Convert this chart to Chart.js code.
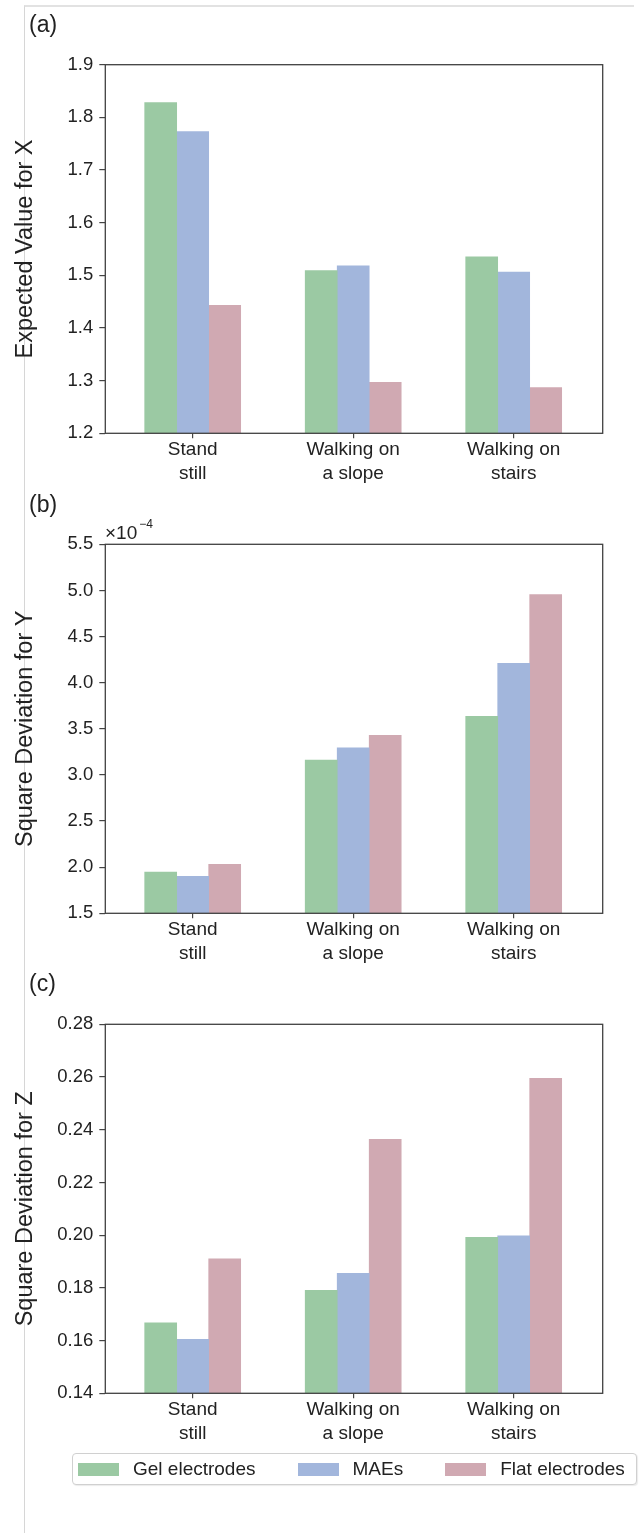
<!DOCTYPE html>
<html>
<head>
<meta charset="utf-8">
<script src="https://cdn.jsdelivr.net/npm/chart.js@4.4.0/dist/chart.umd.min.js"></script>
<style>
  body { margin: 0; width: 639px; height: 1533px; position: relative; background: #fff; overflow: hidden;
         font-family: "Liberation Sans", Arial, sans-serif; color: #222; }
  .frame { position: absolute; left: 24px; top: 5px; width: 609px; height: 1528px;
           border-top: 2px solid #e2e2e2; border-left: 1px solid #d6d6d6; }
  canvas.panel { position: absolute; left: 0; }
  .tag { position: absolute; left: 29px; font-size: 23px; line-height: 23px; }
  .offset { position: absolute; left: 105px; top: 523px; font-size: 19px; line-height: 19px; white-space: nowrap; }
  .offset span { position: relative; top: -11px; font-size: 12px; margin-left: 2px; }
  .legend { position: absolute; left: 72px; top: 1453px; width: 558px; height: 30px; padding-left: 5px;
            border: 1px solid #d0d0d0; border-radius: 4px; box-shadow: 1px 1px 1px rgba(0,0,0,0.08);
            display: flex; align-items: center; font-size: 19px; background: #fff; }
  .legend .item { display: flex; align-items: center; margin-right: 42px; }
  .legend .item:last-child { margin-right: 0; }
  .legend .patch { width: 41px; height: 13px; margin-right: 14px; }
</style>
</head>
<body>
<div class="frame"></div>

<canvas class="panel" id="chartA" width="639" height="500" style="top:0px"></canvas>
<canvas class="panel" id="chartB" width="639" height="500" style="top:480px"></canvas>
<canvas class="panel" id="chartC" width="639" height="500" style="top:960px"></canvas>

<div class="tag" style="top:13px">(a)</div>
<div class="tag" style="top:493px">(b)</div>
<div class="tag" style="top:972px">(c)</div>
<div class="offset">×10<span>−4</span></div>

<div class="legend" id="legend"></div>

<script>
// categories on the x axis (each one split on two lines)
const categories = [['Stand', 'still'], ['Walking on', 'a slope'], ['Walking on', 'stairs']];
const seriesNames = ['Gel electrodes', 'MAEs', 'Flat electrodes'];
const seriesColors = ['#9bc9a3', '#a2b6dc', '#d0a9b2'];

// (a) Expected Value for X
const xGel = [1.828, 1.509, 1.535];
const xMAE = [1.773, 1.518, 1.506];
const xFlat = [1.443, 1.297, 1.287];
const xTicks = [1.2, 1.3, 1.4, 1.5, 1.6, 1.7, 1.8, 1.9];

// (b) Square Deviation for Y, in units of 10^-4
const yGel = [1.948, 3.16, 3.635];
const yMAE = [1.90, 3.295, 4.21];
const yFlat = [2.03, 3.43, 4.954];
const yTicks = [1.5, 2.0, 2.5, 3.0, 3.5, 4.0, 4.5, 5.0, 5.5];

// (c) Square Deviation for Z
const zGel = [0.1667, 0.1791, 0.1992];
const zMAE = [0.1605, 0.1855, 0.1997];
const zFlat = [0.191, 0.2364, 0.2595];
const zTicks = [0.14, 0.16, 0.18, 0.20, 0.22, 0.24, 0.26, 0.28];

Chart.defaults.font.family = '"Liberation Sans", Arial, sans-serif';

// box around the plot area, like matplotlib
const frame = {
    id: 'frame',
    afterDatasetsDraw(chart) {
        const { ctx, chartArea: a } = chart;
        ctx.save();
        ctx.strokeStyle = '#404040';
        ctx.lineWidth = 1.3;
        ctx.strokeRect(a.left, a.top, a.right - a.left, a.bottom - a.top);
        ctx.restore();
    }
};

function makePanel(id, title, values, ticks, decimals, padTop) {
    const yMin = ticks[0];
    const yMax = ticks[ticks.length - 1];

    new Chart(document.getElementById(id), {
        type: 'bar',
        data: {
            datasets: values.map((vals, s) => ({
                label: seriesNames[s],
                data: vals.map((v, i) => ({ x: i, y: v })),
                backgroundColor: seriesColors[s],
                borderWidth: 0,
                barThickness: 32,
                base: yMin
            }))
        },
        options: {
            responsive: false,
            animation: false,
            layout: { padding: { top: padTop, right: 36.3, bottom: 6.7, left: 0 } },
            plugins: { legend: { display: false }, tooltip: { enabled: false } },
            scales: {
                x: {
                    type: 'linear',
                    min: -0.5445,
                    max: 2.5545,
                    offset: false,
                    afterBuildTicks: s => { s.ticks = categories.map((c, i) => ({ value: i })); },
                    afterFit: s => { s.height = 60; },
                    ticks: {
                        callback: v => categories[v],
                        autoSkip: false, maxRotation: 0, padding: 0,
                        color: '#222', font: { size: 19, lineHeight: 1.25 }
                    },
                    grid: { offset: false, drawOnChartArea: false, tickLength: 5, color: '#444', lineWidth: 1.2 },
                    border: { display: false }
                },
                y: {
                    min: yMin,
                    max: yMax,
                    afterBuildTicks: s => { s.ticks = ticks.map(v => ({ value: v })); },
                    afterFit: s => { s.width = 105.3; },
                    ticks: {
                        callback: v => v.toFixed(decimals),
                        padding: 6, color: '#222', font: { size: 18.5 }
                    },
                    grid: { drawOnChartArea: false, tickLength: 6, color: '#444', lineWidth: 1.2 },
                    border: { display: false },
                    title: {
                        display: true, text: title, color: '#222',
                        padding: { top: 11, bottom: 0 }, font: { size: 23.5 }
                    }
                }
            }
        },
        plugins: [frame]
    });
}

makePanel('chartA', 'Expected Value for X', [xGel, xMAE, xFlat], xTicks, 1, 64.7);
makePanel('chartB', 'Square Deviation for Y', [yGel, yMAE, yFlat], yTicks, 1, 64.3);
makePanel('chartC', 'Square Deviation for Z', [zGel, zMAE, zFlat], zTicks, 2, 64.3);

// legend under the last panel
const legend = document.getElementById('legend');
seriesNames.forEach((name, s) => {
    const item = document.createElement('div');
    item.className = 'item';
    item.innerHTML = '<div class="patch" style="background:' + seriesColors[s] + '"></div><span>' + name + '</span>';
    legend.appendChild(item);
});
</script>
</body>
</html>
